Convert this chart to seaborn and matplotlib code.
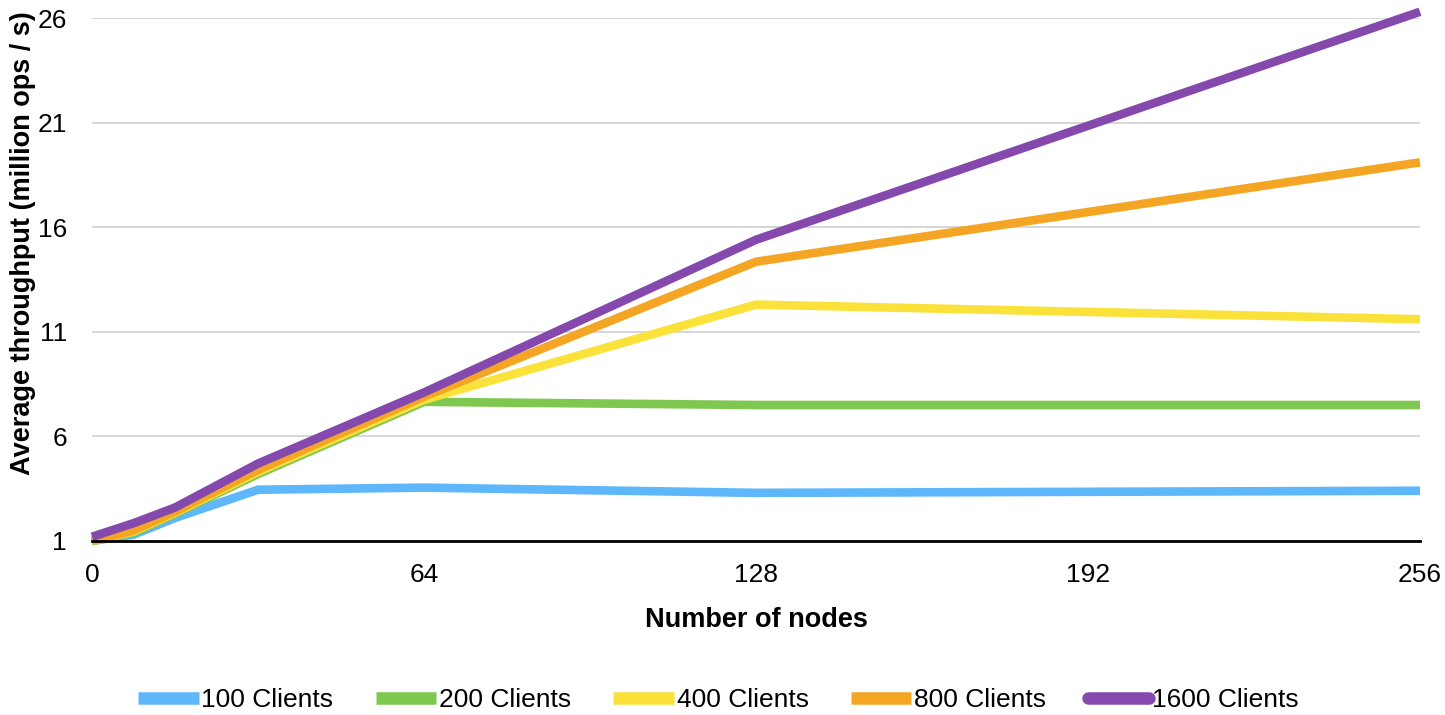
import numpy as np
import pandas as pd
import matplotlib
matplotlib.use('Agg')
import matplotlib.pyplot as plt
import seaborn as sns

# datos
nodos = [0, 8, 16, 32, 64, 128, 256]
series = ['100 Clients', '200 Clients', '400 Clients', '800 Clients', '1600 Clients']
clients_100 = [1.0, 1.3, 2.1, 3.45, 3.55, 3.3, 3.4]
clients_200 = [1.0, 1.4, 2.3, 4.2, 7.65, 7.5, 7.5]
clients_400 = [1.0, 1.45, 2.35, 4.3, 7.75, 12.3, 11.6]
clients_800 = [1.0, 1.5, 2.4, 4.4, 7.9, 14.35, 19.1]
clients_1600 = [1.2, 1.85, 2.6, 4.7, 8.1, 15.4, 26.3]
y_ticks = [1, 6, 11, 16, 21, 26]
x_ticks = [0, 64, 128, 192, 256]

colores = {
    '100 Clients':  '#5EB6FB',
    '200 Clients':  '#7FC850',
    '400 Clients':  '#FBE23A',
    '800 Clients':  '#F4A523',
    '1600 Clients': '#8549AE',
}

valores = [clients_100, clients_200, clients_400, clients_800, clients_1600]
df = pd.DataFrame({
    'nodes': nodos * len(series),
    'throughput': sum(valores, []),
    'serie': np.repeat(series, len(nodos)),
})

sns.set_style('white')
plt.rcParams['font.family'] = ['Liberation Sans', 'DejaVu Sans']
plt.rcParams['text.color'] = 'black'
plt.rcParams['axes.labelcolor'] = 'black'
plt.rcParams['xtick.color'] = 'black'
plt.rcParams['ytick.color'] = 'black'

fig = plt.figure(figsize=(14.45, 7.15), dpi=100)
ax = fig.add_axes([0.0637, 0.2434, 0.919, 0.7314])

sns.lineplot(data=df, x='nodes', y='throughput', hue='serie', hue_order=series,
             palette=colores, linewidth=6.2, ax=ax, sort=False,
             solid_joinstyle='miter', solid_capstyle='butt')

ax.set_xlim(0, 256)
ax.set_ylim(1, 26)
ax.set_xticks(x_ticks)
ax.set_yticks(y_ticks)
ax.tick_params(axis='both', labelsize=19, length=0, labelcolor='black')
ax.tick_params(axis='y', pad=18)
ax.tick_params(axis='x', pad=16)
ax.yaxis.grid(True, color='#d0d0d0', linewidth=1.2)
ax.xaxis.grid(False)
for lado in ['top', 'right', 'left']:
    ax.spines[lado].set_visible(False)
ax.spines['bottom'].set_color('black')
ax.spines['bottom'].set_linewidth(2)
ax.spines['bottom'].set_zorder(5)
for ln in ax.get_lines():
    ln.set_clip_on(False)

ax.set_xlabel('Number of nodes', fontsize=19.5, fontweight='bold', labelpad=14,
              color='black')
ax.set_ylabel('Average throughput (million ops / s)', fontsize=19.5,
              fontweight='bold', color='black')
ax.yaxis.set_label_coords(-0.0425, 0.57)

handles, labels = ax.get_legend_handles_labels()
for h in handles:
    h.set_linewidth(9)
handles[-1].set_solid_capstyle('round')
ax.get_legend().remove()
fig.legend(handles, labels, loc='center', bbox_to_anchor=(0.497, 0.021),
           ncol=5, frameon=False, fontsize=19, handlelength=2.3,
           handletextpad=0.1, columnspacing=1.6, labelcolor='black')

plt.savefig('out.png', dpi=100)
